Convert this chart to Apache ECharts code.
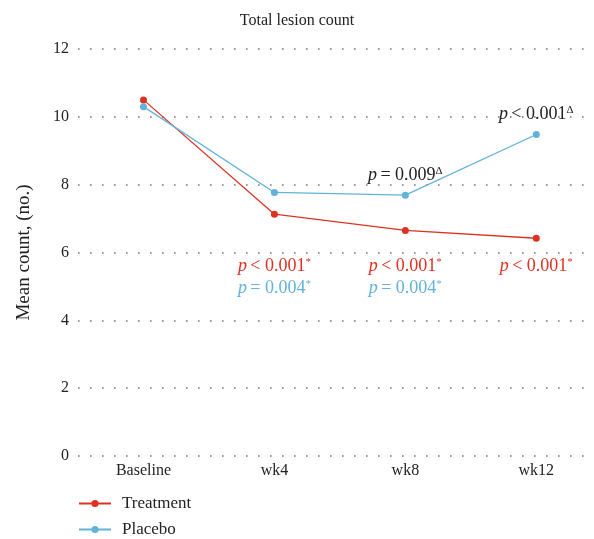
<!DOCTYPE html>
<html>
<head>
<meta charset="utf-8">
<script src="https://cdn.jsdelivr.net/npm/echarts@6/dist/echarts.min.js"></script>
<style>html,body{margin:0;padding:0;background:#fff}#c{width:594px;height:539px}</style>
</head>
<body>
<div id="c"></div>
<script>
const categories = ['Baseline', 'wk4', 'wk8', 'wk12'];
const treatment = [10.50, 7.13, 6.65, 6.42];
const placebo = [10.30, 7.77, 7.69, 9.48];
const yTicks = [0, 2, 4, 6, 8, 10, 12];
// p-values vs baseline (within-group), asterisk
const treatP = [null, '< 0.001', '< 0.001', '< 0.001'];
const placeboP = [null, '= 0.004', '= 0.004', null];
// p-values treatment vs placebo, delta
const betweenP = [null, null, '= 0.009', '< 0.001'];

const RED = '#dd3222';
const BLUE = '#62b2da';
const SERIF = '"Liberation Serif", "DejaVu Serif", serif';

function rich(color) {
  return {
    p: { fontFamily: SERIF, fontStyle: 'italic', fontSize: 18, color: color },
    n: { fontFamily: SERIF, fontSize: 18, color: color },
    s: { fontFamily: SERIF, fontSize: 11, color: color, padding: [0, 0, 9, 0] }
  };
}
function rowMarks(pArr, yVal, color, sup) {
  const out = [];
  pArr.forEach((p, i) => {
    if (p == null) return;
    out.push({
      coord: [i, yVal],
      label: { formatter: '{p|p} {n|' + p + '}{s|' + sup + '}', rich: rich(color) }
    });
  });
  return out;
}
function aboveMarks(pArr, vals, color, sup) {
  const out = [];
  pArr.forEach((p, i) => {
    if (p == null) return;
    out.push({
      coord: [i, vals[i]],
      label: { formatter: '{p|p} {n|' + p + '}{s|' + sup + '}', rich: rich(color), offset: [0, -20] }
    });
  });
  return out;
}
const markBase = {
  symbol: 'circle', symbolSize: 1, itemStyle: { color: 'rgba(0,0,0,0)' },
  label: { show: true, position: 'inside' }, silent: true, animation: false
};

const chart = echarts.init(document.getElementById('c'), null, { renderer: 'canvas' });
chart.setOption({
  animation: false,
  backgroundColor: '#fff',
  title: {
    text: 'Total lesion count', left: 'center', top: 8,
    textStyle: { fontFamily: SERIF, fontSize: 16, fontWeight: 'normal', color: '#222' }
  },
  legend: {
    orient: 'vertical', left: 78, top: 495, padding: 0, itemWidth: 32, itemHeight: 9, itemGap: 9,
    textStyle: { fontFamily: SERIF, fontSize: 17, color: '#222', padding: [0, 0, 0, 6] },
    data: ['Treatment', 'Placebo']
  },
  grid: { left: 78, right: 4, top: 49, bottom: 83, outerBoundsMode: 'none', containLabel: false },
  xAxis: {
    type: 'value', min: -0.5, max: 3.41,
    axisLine: { show: false }, axisTick: { show: false }, splitLine: { show: false },
    axisLabel: {
      customValues: categories.map((c, i) => i),
      formatter: v => categories[Math.round(v)] || '',
      fontFamily: SERIF, fontSize: 16, color: '#222', margin: 7
    }
  },
  yAxis: {
    type: 'value', min: 0, max: 12, interval: 2,
    name: 'Mean count, (no.)', nameLocation: 'middle', nameGap: 44, nameRotate: 90,
    nameTextStyle: { fontFamily: SERIF, fontSize: 19, color: '#222' },
    axisLine: { show: false }, axisTick: { show: false },
    axisLabel: { fontFamily: SERIF, fontSize: 16, color: '#222', margin: 9,
      formatter: v => yTicks.indexOf(v) >= 0 ? String(v) : '' },
    splitLine: { lineStyle: { color: '#777', width: 1.6, type: [1.6, 10.4] } }
  },
  series: [
    {
      name: 'Treatment', type: 'line', color: RED,
      data: treatment.map((v, i) => [i, v]),
      symbol: 'circle', symbolSize: 7, lineStyle: { width: 1.3 },
      markPoint: Object.assign({}, markBase, { data: rowMarks(treatP, 5.59, RED, '*') })
    },
    {
      name: 'Placebo', type: 'line', color: BLUE,
      data: placebo.map((v, i) => [i, v]),
      symbol: 'circle', symbolSize: 7, lineStyle: { width: 1.3 },
      markPoint: Object.assign({}, markBase, {
        data: rowMarks(placeboP, 4.94, BLUE, '*').concat(aboveMarks(betweenP, placebo, '#222', 'Δ'))
      })
    }
  ]
});
</script>
</body>
</html>
